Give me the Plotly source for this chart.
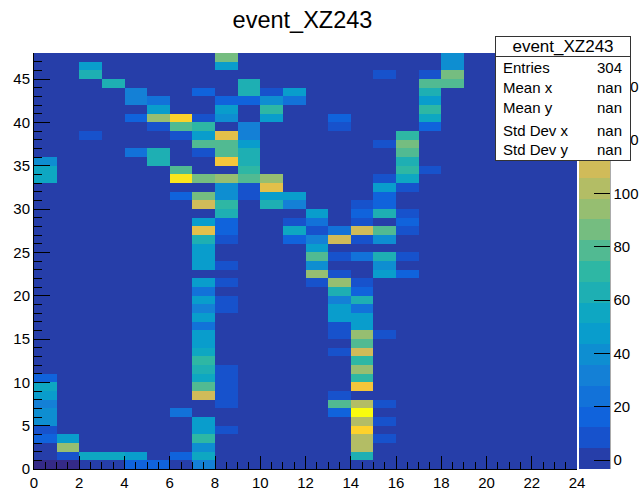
import numpy as np
import plotly.graph_objects as go

TITLE = "event_XZ243"
x_edges = list(range(25))
y_edges = list(range(49))
x_ticks = list(range(0, 25, 2))
y_ticks = list(range(0, 46, 5))
bar_ticks = [0, 20, 40, 60, 80, 100, 120, 140]
stat_names = ["Entries", "Mean x", "Mean y", "Std Dev x", "Std Dev y"]
stat_values = ["304", "nan", "nan", "nan", "nan"]

#      0  1  2  3  4  5  6  7  8  9 10 11 12 13 14 15 16 17 18 19 20 21 22 23
r00 = [-5,-5, 0, 0,18,20, 0,34, 0, 0, 0, 0, 0, 0, 0, 0, 0, 0, 0, 0, 0, 0, 0, 0]
r01 = [ 0,10,55,55,50, 0,16,55, 0, 0, 0, 0, 0, 0,65, 0, 0, 0, 0, 0, 0, 0, 0, 0]
r02 = [ 0,94, 0, 0, 0, 0, 0,36, 0, 0, 0, 0, 0, 0,102,0, 0, 0, 0, 0, 0, 0, 0, 0]
r03 = [16,47, 0, 0, 0, 0, 0,70, 0, 0, 0, 0, 0, 0,102,10,0, 0, 0, 0, 0, 0, 0, 0]
r04 = [10, 0, 0, 0, 0, 0, 0,50,10, 0, 0, 0, 0, 0,133,0, 0, 0, 0, 0, 0, 0, 0, 0]
r05 = [40, 0, 0, 0, 0, 0, 0,47, 0, 0, 0, 0, 0, 0,102,10,0, 0, 0, 0, 0, 0, 0, 0]
r06 = [40, 0, 0, 0, 0, 0,24, 0, 0, 0, 0, 0, 0,16,150,0, 0, 0, 0, 0, 0, 0, 0, 0]
r07 = [28, 0, 0, 0, 0, 0, 0, 0,10, 0, 0, 0, 0,78,102,10,0, 0, 0, 0, 0, 0, 0, 0]
r08 = [47, 0, 0, 0, 0, 0, 0,110,10,0, 0, 0, 0,10, 0, 0, 0, 0, 0, 0, 0, 0, 0, 0]
r09 = [55, 0, 0, 0, 0, 0, 0,78,10, 0, 0, 0, 0, 0,125,0, 0, 0, 0, 0, 0, 0, 0, 0]
r10 = [16, 0, 0, 0, 0, 0, 0,52,10, 0, 0, 0, 0, 0,70, 0, 0, 0, 0, 0, 0, 0, 0, 0]
r11 = [ 0, 0, 0, 0, 0, 0, 0,60,10, 0, 0, 0, 0, 0,94, 0, 0, 0, 0, 0, 0, 0, 0, 0]
r12 = [ 0, 0, 0, 0, 0, 0, 0,70, 0, 0, 0, 0, 0, 0,68, 0, 0, 0, 0, 0, 0, 0, 0, 0]
r13 = [ 0, 0, 0, 0, 0, 0, 0,55, 0, 0, 0, 0, 0,10,110,0, 0, 0, 0, 0, 0, 0, 0, 0]
r14 = [ 0, 0, 0, 0, 0, 0, 0,47, 0, 0, 0, 0, 0, 0,80, 0, 0, 0, 0, 0, 0, 0, 0, 0]
r15 = [ 0, 0, 0, 0, 0, 0, 0,47, 0, 0, 0, 0, 0,10,94,10, 0, 0, 0, 0, 0, 0, 0, 0]
r16 = [ 0, 0, 0, 0, 0, 0, 0,24, 0, 0, 0, 0, 0,10,50, 0, 0, 0, 0, 0, 0, 0, 0, 0]
r17 = [ 0, 0, 0, 0, 0, 0, 0,47, 0, 0, 0, 0, 0,50,50, 0, 0, 0, 0, 0, 0, 0, 0, 0]
r18 = [ 0, 0, 0, 0, 0, 0, 0,34,10, 0, 0, 0, 0,47,24, 0, 0, 0, 0, 0, 0, 0, 0, 0]
r19 = [ 0, 0, 0, 0, 0, 0, 0,47,10, 0, 0, 0, 0,32,63, 0, 0, 0, 0, 0, 0, 0, 0, 0]
r20 = [ 0, 0, 0, 0, 0, 0, 0,24, 0, 0, 0, 0, 0,63,16, 0, 0, 0, 0, 0, 0, 0, 0, 0]
r21 = [ 0, 0, 0, 0, 0, 0, 0,50,10, 0, 0, 0,10,94,10, 0, 0, 0, 0, 0, 0, 0, 0, 0]
r22 = [ 0, 0, 0, 0, 0, 0, 0, 0, 0, 0, 0, 0,94,10, 0,50,20, 0, 0, 0, 0, 0, 0, 0]
r23 = [ 0, 0, 0, 0, 0, 0, 0,47,10, 0, 0, 0,40, 0, 0,40, 0, 0, 0, 0, 0, 0, 0, 0]
r24 = [ 0, 0, 0, 0, 0, 0, 0,47, 0, 0, 0, 0,80,10,24,60,10, 0, 0, 0, 0, 0, 0, 0]
r25 = [ 0, 0, 0, 0, 0, 0, 0,50, 0, 0, 0, 0,50, 0, 0, 0, 0, 0, 0, 0, 0, 0, 0, 0]
r26 = [ 0, 0, 0, 0, 0, 0, 0,63,10, 0, 0,16,28,110,10,36,0, 0, 0, 0, 0, 0, 0, 0]
r27 = [ 0, 0, 0, 0, 0, 0, 0,117,16,0, 0,55,10,24,110,78,10,0, 0, 0, 0, 0, 0, 0]
r28 = [ 0, 0, 0, 0, 0, 0, 0,47,16, 0, 0,10,24, 0,10, 0,16, 0, 0, 0, 0, 0, 0, 0]
r29 = [ 0, 0, 0, 0, 0, 0, 0, 0,63, 0, 0, 0,50, 0,16,65,10, 0, 0, 0, 0, 0, 0, 0]
r30 = [ 0, 0, 0, 0, 0, 0, 0,110,70,0,60,32, 0, 0,10,20, 0, 0, 0, 0, 0, 0, 0, 0]
r31 = [ 0, 0, 0, 0, 0, 0,16,86,36,10,50,47, 0, 0, 0,16, 0, 0, 0, 0, 0, 0, 0, 0]
r32 = [ 0, 0, 0, 0, 0, 0, 0, 0,36,10,117,0, 0, 0, 0,50,10, 0, 0, 0, 0, 0, 0, 0]
r33 = [55, 0, 0, 0, 0, 0,141,86,94,78,94,0, 0, 0, 0,10,55, 0, 0, 0, 0, 0, 0, 0]
r34 = [55, 0, 0, 0, 0, 0,78, 0, 0,70, 0, 0, 0, 0, 0, 0,70,10, 0, 0, 0, 0, 0, 0]
r35 = [40, 0, 0, 0, 0,63, 0, 0,125,60,0, 0, 0, 0, 0, 0,63, 0, 0, 0, 0, 0, 0, 0]
r36 = [ 0, 0, 0, 0,24,63, 0,10,78,60, 0, 0, 0, 0, 0, 0,78, 0, 0, 0, 0, 0, 0, 0]
r37 = [ 0, 0, 0, 0, 0, 0, 0,78,78,50, 0, 0, 0, 0, 0,10,86, 0, 0, 0, 0, 0, 0, 0]
r38 = [ 0, 0,10, 0, 0, 0,10,45,117,32,0, 0, 0, 0, 0, 0,70, 0, 0, 0, 0, 0, 0, 0]
r39 = [ 0, 0, 0, 0, 0,10,78,70, 0,32, 0, 0, 0,10, 0, 0, 0,16, 0, 0, 0, 0, 0, 0]
r40 = [ 0, 0, 0, 0,20,94,133,10,36,0,50, 0, 0,20, 0, 0, 0,55, 0, 0, 0, 0, 0, 0]
r41 = [ 0, 0, 0, 0, 0,50, 0, 0,47, 0,70, 0, 0, 0, 0, 0, 0,70, 0, 0, 0, 0, 0, 0]
r42 = [ 0, 0, 0, 0,28,24, 0, 0,16,20,36,24, 0, 0, 0, 0, 0,47, 0, 0, 0, 0, 0, 0]
r43 = [ 0, 0, 0, 0,28, 0, 0,16, 0,63,10,47, 0, 0, 0, 0, 0,63, 0, 0, 0, 0, 0, 0]
r44 = [ 0, 0, 0,63, 0, 0, 0, 0, 0,63, 0, 0, 0, 0, 0, 0, 0,78,78, 0, 0, 0, 0, 0]
r45 = [ 0, 0,63, 0, 0, 0, 0, 0, 0, 0, 0, 0, 0, 0, 0,10, 0,10,86, 0, 0, 0, 0, 0]
r46 = [ 0, 0,50, 0, 0, 0, 0, 0,48, 0, 0, 0, 0, 0, 0, 0, 0, 0,36, 0, 0, 0, 0, 0]
r47 = [ 0, 0, 0, 0, 0, 0, 0, 0,86, 0, 0, 0, 0, 0, 0, 0, 0, 0,36, 0, 0, 0, 0, 0]

counts = np.array([r00, r01, r02, r03, r04, r05, r06, r07, r08, r09, r10, r11,
                   r12, r13, r14, r15, r16, r17, r18, r19, r20, r21, r22, r23,
                   r24, r25, r26, r27, r28, r29, r30, r31, r32, r33, r34, r35,
                   r36, r37, r38, r39, r40, r41, r42, r43, r44, r45, r46, r47], dtype=float)

Z_MIN, Z_MAX, N_LEVELS = -3.3, 152.7, 20

# ROOT "bird" palette, sampled the way ROOT samples it for discrete contours
stops = [0.0, 0.125, 0.25, 0.375, 0.5, 0.625, 0.75, 0.875, 1.0]
red = [0.2082, 0.0592, 0.0780, 0.0232, 0.1802, 0.5301, 0.8186, 0.9956, 0.9764]
green = [0.1664, 0.3599, 0.5041, 0.6419, 0.7178, 0.7492, 0.7328, 0.7862, 0.9832]
blue = [0.5293, 0.8684, 0.8385, 0.7914, 0.6425, 0.4662, 0.3499, 0.1968, 0.0539]


def bird(f):
    return "rgb(%d,%d,%d)" % tuple(round(255 * np.interp(f, stops, c)) for c in (red, green, blue))


colorscale = []
for i in range(N_LEVELS):
    col = bird(min(1.0, (i + 0.99) / N_LEVELS))
    colorscale += [[i / N_LEVELS, col], [(i + 1) / N_LEVELS, col]]

# plot frame in pixels
L, R, T, B, W, H = 34.3, 576.7, 53.0, 469.0, 644, 490


def px(x):
    return (x - L) / (R - L)


def py(y):
    return (B - y) / (B - T)


FONT = "Liberation Sans"
fig = go.Figure()
fig.add_trace(go.Heatmap(
    z=counts, x=x_edges, y=y_edges, zmin=Z_MIN, zmax=Z_MAX, colorscale=colorscale,
    colorbar=dict(
        x=px(578.3), xanchor="left", xpad=0, y=0, yanchor="bottom", ypad=0, len=1,
        lenmode="fraction", thickness=31, thicknessmode="pixels", outlinewidth=0,
        ticks="inside", ticklen=16, tickcolor="black", tickwidth=1,
        tickmode="array", tickvals=bar_ticks,
        tickfont=dict(family=FONT, size=15, color="black"),
    ),
))
under = np.where(counts < Z_MIN, counts, np.nan)
fig.add_trace(go.Heatmap(
    z=under, x=x_edges, y=y_edges, showscale=False,
    colorscale=[[0, bird(0.0)], [1, bird(0.0)]],
))

axis = dict(showline=True, linecolor="black", linewidth=1, showgrid=False, zeroline=False,
            ticks="inside", tickcolor="black", tickwidth=1,
            tickfont=dict(family=FONT, size=15, color="black"))
fig.update_xaxes(range=[0, 24], tickmode="array", tickvals=x_ticks, ticklen=13,
                 minor=dict(dtick=0.5, ticks="inside", ticklen=7, tickcolor="black", showgrid=False), **axis)
fig.update_yaxes(range=[0, 48], tickmode="array", tickvals=y_ticks, ticklen=16,
                 minor=dict(dtick=1, ticks="inside", ticklen=8, tickcolor="black", showgrid=False), **axis)

BOX_L, BOX_R, BOX_T, BOX_B, HEAD_B = 495, 631, 36, 161, 57
anns = [
    dict(x=px(BOX_L), y=py(BOX_T), xanchor="left", yanchor="top", text=" ",
         width=BOX_R - BOX_L - 2, height=BOX_B - BOX_T - 2, borderpad=0,
         bgcolor="white", bordercolor="#333333", borderwidth=1, showarrow=False),
    dict(x=px(BOX_L), y=py(BOX_T), xanchor="left", yanchor="top", text=TITLE,
         width=BOX_R - BOX_L - 2, height=HEAD_B - BOX_T - 2, borderpad=0, align="center",
         bgcolor="white", bordercolor="#333333", borderwidth=1, showarrow=False,
         font=dict(family=FONT, size=17, color="black")),
]
row_y = [67, 87, 108, 130, 150]
for name, val, yy in zip(stat_names, stat_values, row_y):
    anns.append(dict(x=px(501.5), y=py(yy), xanchor="left", yanchor="middle", text=name, showarrow=False,
                     borderpad=0, font=dict(family=FONT, size=15, color="black")))
    anns.append(dict(x=px(623), y=py(yy), xanchor="right", yanchor="middle", text=val, showarrow=False,
                     borderpad=0, font=dict(family=FONT, size=15, color="black")))
for a in anns:
    a.update(xref="paper", yref="paper")

fig.update_layout(
    width=W, height=H, margin=dict(l=L, r=W - R, t=T, b=H - B, pad=0, autoexpand=False),
    paper_bgcolor="white", plot_bgcolor="white",
    title=dict(text=TITLE, x=302.5 / W, xanchor="center", xref="container",
               y=1 - 20 / H, yanchor="middle", yref="container",
               font=dict(family=FONT, size=23.5, color="black")),
    annotations=anns,
    shapes=[dict(type="line", xref="paper", yref="paper", x0=px(609.5), x1=px(609.5), y0=0, y1=1,
                 line=dict(color="black", width=1))],
)
fig.write_html("out.html", config={"displayModeBar": False},
               post_script="document.body.style.margin='0';document.body.style.overflow='hidden';")
